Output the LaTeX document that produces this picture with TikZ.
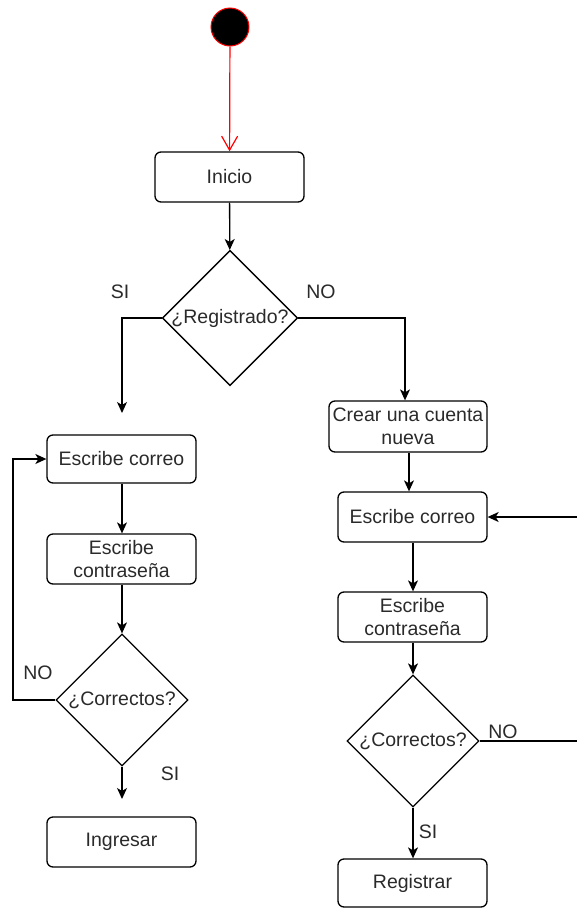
\documentclass[tikz,border=0pt]{standalone}
\usepackage{fontspec}
\setmainfont{Liberation Sans}
\usetikzlibrary{shapes.geometric,arrows.meta}
\definecolor{txt}{HTML}{2a2a2a}
\tikzset{
  x=1pt, y=-1pt,
  box/.style={draw, rounded corners=6pt, line width=1.3pt, minimum width=149pt, minimum height=50pt, inner sep=0pt, align=center, text=txt, font=\fontsize{19.5}{22.8}\selectfont},
  decision/.style={draw, diamond, line width=1.3pt, minimum width=132pt, minimum height=132pt, inner sep=0pt, text=txt, font=\fontsize{19.5}{22.8}\selectfont},
  lbl/.style={text=txt, font=\fontsize{19.5}{22.8}\selectfont, inner sep=0pt},
  flow/.style={line width=1.3pt, -{Stealth[length=11pt,width=10pt,inset=3pt]}},
  plain/.style={line width=1.3pt},
  startarrow/.style={draw=red, line width=1.2pt, -{Straight Barb[length=14pt,width=16pt]}},
}
\begin{document}
\begin{tikzpicture}
\useasboundingbox (0,0) rectangle (577,908);
% start
\node[circle, draw=red, fill=black, line width=1pt, minimum size=38pt, inner sep=0pt] (start) at (230,27) {};
\node[box] (inicio) at (229.5,177) {Inicio};
\node[decision] (reg) at (230,318) {¿Registrado?};
\node[lbl] (si1) at (120,292) {SI};
\node[lbl] (no1) at (321,292) {NO};
% left column
\coordinate (siend) at (122,413);
\node[box, minimum height=48pt] (correoL) at (121.5,459) {Escribe correo};
\node[box] (passL) at (121.5,559) {Escribe\\contraseña};
\node[decision] (corrL) at (122,700) {¿Correctos?};
\node[lbl] (no2) at (38,673) {NO};
\node[lbl] (si2) at (170,774) {SI};
\coordinate (ingend) at (122,799);
\node[box] (ingresar) at (121.5,842) {Ingresar};
% right column
\node[box, minimum width=158pt, minimum height=51pt] (crear) at (408,426.5) {Crear una cuenta\\nueva};
\node[box] (correoR) at (412.5,517) {Escribe correo};
\node[box] (passR) at (412.5,617) {Escribe\\contraseña};
\node[decision] (corrR) at (413,741) {¿Correctos?};
\node[lbl] (no3) at (503,732) {NO};
\node[lbl] (si3) at (428,832) {SI};
\node[box, minimum height=48pt] (registrar) at (412.5,883) {Registrar};
\coordinate (edgeA) at (577,741);
\coordinate (edgeB) at (577,517);
% connectors
\draw[startarrow] (start) -- (inicio);
\draw[flow] (inicio) -- (reg);
\draw[flow] (reg.west) -| (siend);
\draw[flow] (reg.east) -| (crear.north -| 405,0);
\draw[flow] (crear.south -| 409,0) -- (correoR.north -| 409,0);
\draw[flow] (correoR.south -| 413,0) -- (passR.north -| 413,0);
\draw[flow] (passR.south -| 413,0) -- (corrR.north);
\draw[flow] (corrR.south) -- (registrar.north -| corrR.south);
\draw[plain] (corrR.east) -- (edgeA);
\draw[flow] (edgeB) -- (correoR.east);
\draw[flow] (correoL.south -| 122,0) -- (passL.north -| 122,0);
\draw[flow] (passL.south -| 122,0) -- (corrL.north);
\draw[flow] (corrL.west) -- (13,700) |- (correoL.west);
\draw[flow] (corrL.south) -- (ingend);
\end{tikzpicture}
\end{document}
